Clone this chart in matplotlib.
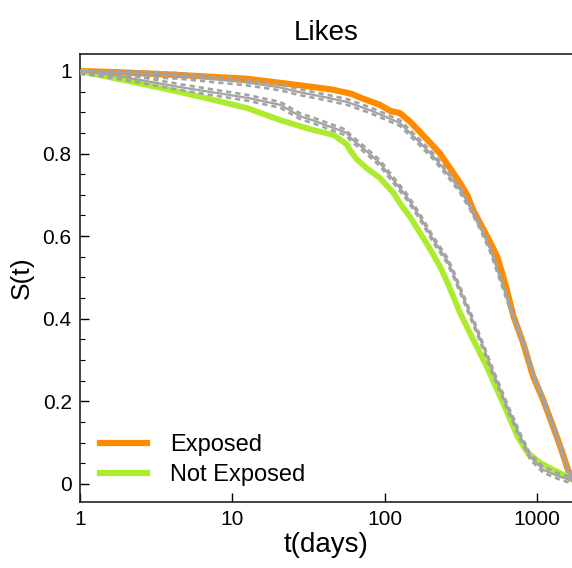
import numpy as np
import matplotlib
matplotlib.use("Agg")
import matplotlib.pyplot as plt
from matplotlib.ticker import FixedLocator, MultipleLocator

plt.rcParams['font.family'] = ['Liberation Sans', 'DejaVu Sans']

# Exposed (Kaplan-Meier estimate)
exp_t = [1, 2, 4.5, 12.5, 28, 45, 60, 72, 93, 109, 126, 147, 178, 199, 231, 268, 312, 348, 382,
         437, 495, 548, 592, 650, 703, 812, 945, 1100, 1280, 1450, 1600, 1700]
exp_s = [1.0, 0.996, 0.990, 0.981, 0.965, 0.955, 0.945, 0.933, 0.918, 0.903, 0.898, 0.877, 0.845,
         0.826, 0.800, 0.765, 0.729, 0.700, 0.663, 0.622, 0.584, 0.550, 0.510, 0.455, 0.405, 0.341,
         0.260, 0.203, 0.138, 0.082, 0.034, 0.015]

# Not exposed (Kaplan-Meier estimate)
nexp_t = [1, 1.65, 2.75, 4.5, 7.5, 12.5, 20.6, 28, 34, 46, 51, 56.5, 59, 66, 77, 93, 114, 126, 147,
          171, 200, 232, 257, 313, 382, 470, 548, 640, 747, 870, 1060, 1280, 1590, 1700]
nexp_s = [1.0, 0.983, 0.966, 0.949, 0.930, 0.910, 0.881, 0.866, 0.857, 0.845, 0.834, 0.822, 0.809,
          0.785, 0.763, 0.741, 0.705, 0.680, 0.646, 0.608, 0.567, 0.525, 0.490, 0.414, 0.349, 0.283,
          0.228, 0.172, 0.114, 0.075, 0.050, 0.034, 0.017, 0.010]

# Model fit, exposed
fexp_t = [1, 2, 4.5, 12.5, 20.6, 28, 40, 56.5, 80, 100, 126, 171, 210, 257, 313, 364, 426, 495,
          572, 703, 812, 945, 1100, 1280, 1450, 1600, 1700]
fexp_s = [1.0, 0.995, 0.988, 0.972, 0.960, 0.948, 0.937, 0.925, 0.905, 0.890, 0.874, 0.826, 0.792,
          0.753, 0.712, 0.671, 0.622, 0.567, 0.500, 0.405, 0.343, 0.265, 0.205, 0.140, 0.082, 0.032,
          0.012]

# Model fit, not exposed
fnexp_t = [1, 1.65, 4.5, 12.5, 20.6, 28, 34, 56.5, 59, 77, 93, 114, 140, 171, 210, 257, 282, 348,
           426, 517, 640, 780, 906, 1100, 1421, 1700]
fnexp_s = [1.0, 0.990, 0.961, 0.935, 0.918, 0.890, 0.880, 0.850, 0.840, 0.804, 0.777, 0.736, 0.695,
           0.646, 0.590, 0.542, 0.510, 0.429, 0.349, 0.269, 0.186, 0.114, 0.065, 0.034, 0.017, 0.008]

band = 0.007

orange = '#FF8C00'
green = '#ADEB2F'
gray = '#A3A3A3'

fig = plt.figure(figsize=(5.72, 5.68), dpi=100)
ax = fig.add_axes([80/572, 1-502/568, 1-80/572, (502-54)/568])

ax.plot(exp_t, exp_s, color=orange, lw=4.5, label='Exposed', zorder=2)
ax.plot(nexp_t, nexp_s, color=green, lw=4.2, label='Not Exposed', zorder=2)

for ft, fs in [(fexp_t, fexp_s), (fnexp_t, fnexp_s)]:
    fs = np.array(fs)
    ax.plot(ft, fs, color=gray, lw=1.6, zorder=3)
    ax.plot(ft, np.clip(fs + band, 0, 1), color=gray, lw=1.9, ls=(0, (2, 1.5)), zorder=3)
    ax.plot(ft, np.clip(fs - band, 0, None), color=gray, lw=1.9, ls=(0, (2, 1.5)), zorder=3)

ax.set_xscale('log')
ax.set_xlim(1, 1700)
ax.set_ylim(-0.044, 1.041)

ax.xaxis.set_major_locator(FixedLocator([1, 10, 100, 1000]))
ax.xaxis.set_minor_locator(FixedLocator([]))
ax.set_xticklabels(['1', '10', '100', '1000'])
ax.set_yticks([0, 0.2, 0.4, 0.6, 0.8, 1.0])
ax.set_yticklabels(['0', '0.2', '0.4', '0.6', '0.8', '1'])
ax.yaxis.set_minor_locator(MultipleLocator(0.05))

ax.tick_params(axis='both', which='both', direction='in', labelsize=15, top=False, right=False)
ax.tick_params(axis='both', which='major', length=6.5, width=1)
ax.tick_params(axis='y', which='minor', length=3.5, width=0.8)
ax.tick_params(axis='x', pad=6)
ax.tick_params(axis='y', pad=6)

ax.set_xlabel('t(days)', fontsize=20, labelpad=2)
ax.set_ylabel('S(t)', fontsize=19, labelpad=6)
ax.set_title('Likes', fontsize=20, pad=10)

ax.spines['right'].set_visible(False)
for s in ax.spines.values():
    s.set_linewidth(1.2)
    s.set_color('#222222')

leg = ax.legend(loc='lower left', frameon=False, fontsize=17, handlelength=2.0,
                bbox_to_anchor=(0.0407, 0.035), borderpad=0, borderaxespad=0,
                labelspacing=0.35, handletextpad=0.95)
for h in leg.get_lines():
    h.set_linewidth(4.5)

fig.savefig('out.png', dpi=100)
